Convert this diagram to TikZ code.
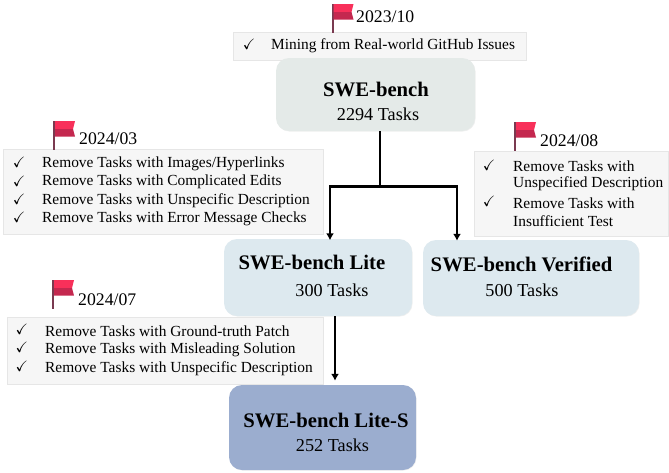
\documentclass[tikz,border=0pt]{standalone}
\usepackage{amssymb}
\usepackage{fontspec}
\setmainfont{Liberation Serif}
\usetikzlibrary{shadows}
\usetikzlibrary{arrows.meta}
\definecolor{flagtop}{HTML}{F8305A}
\definecolor{flagband}{HTML}{C4284F}
\definecolor{flagpole}{HTML}{7A3A50}
\definecolor{panelfill}{HTML}{F6F6F6}
\definecolor{paneledge}{HTML}{E6E6E6}
\definecolor{basefill}{HTML}{E4EAE8}
\definecolor{litefill}{HTML}{DDE9EF}
\definecolor{lowfill}{HTML}{9BADCF}
\tikzset{
 panel/.style={draw=paneledge,fill=panelfill,line width=.5pt,minimum width=#1},
 taskbox/.style={rounded corners=13pt,draw=none,inner sep=0pt,drop shadow={shadow xshift=.6pt,shadow yshift=-.6pt,opacity=.12}},
 boxtitle/.style={font=\fontsize{20.7}{22}\selectfont\bfseries,inner sep=0pt},
 boxcount/.style={font=\fontsize{18.2}{20}\selectfont,inner sep=0pt},
 datelabel/.style={font=\fontsize{17.7}{20}\selectfont,inner sep=0pt,anchor=west},
 item/.style={font=\fontsize{15.4}{17}\selectfont,inner sep=0pt,anchor=west},
 tick/.style={font=\fontsize{15}{17}\selectfont,inner sep=0pt},
 flow/.style={draw=black,line width=2.4pt},
 flowarrow/.style={flow,-{Latex[length=7pt,width=8pt]}},
 flagmark/.pic={
  \fill[flagpole] (0,0) rectangle (2.2,29);
  \fill[flagtop] (2.2,0) -- (22,0) -- (20,8) -- (2.2,8) -- cycle;
  \fill[flagband] (2.2,8) -- (20,8) -- (22,15.5) -- (2.2,15.5) -- cycle;
 },
}
\begin{document}
\begin{tikzpicture}[x=1pt,y=-1pt]
    \useasboundingbox (0,0) rectangle (669,472);
    % panels
    \node[panel=293pt,minimum height=28pt] (panelA) at (379.5,46) {};
    \node[panel=320pt,minimum height=85pt] (panelB) at (163,191.5) {};
    \node[panel=194pt,minimum height=85pt] (panelC) at (571,193.5) {};
    \node[panel=316pt,minimum height=67pt] (panelD) at (165,350.5) {};
    % boxes
    \node[taskbox,fill=basefill,minimum width=199pt,minimum height=73pt] (base) at (375.5,94.5) {};
    \node[taskbox,fill=litefill,minimum width=188pt,minimum height=77pt] (lite) at (318,277.5) {};
    \node[taskbox,fill=litefill,minimum width=216pt,minimum height=76pt] (verified) at (531,278) {};
    \node[taskbox,fill=lowfill,minimum width=187pt,minimum height=85pt] (liteS) at (322.5,427.5) {};
    % box texts
    \node[boxtitle] (baseT) at (376,89) {SWE-bench};
    \node[boxcount] (baseN) at (378,114) {2294 Tasks};
    \node[boxtitle] (liteT) at (312,262) {SWE-bench Lite};
    \node[boxcount] (liteN) at (332,290) {300 Tasks};
    \node[boxtitle] (verifiedT) at (521.5,264) {SWE-bench Verified};
    \node[boxcount] (verifiedN) at (522,290) {500 Tasks};
    \node[boxtitle] (liteST) at (326,420.5) {SWE-bench Lite-S};
    \node[boxcount] (liteSN) at (332.5,445) {252 Tasks};
    % connectors
    \coordinate (split) at (380,186.5);
    \coordinate (splitL) at (330,186.5);
    \coordinate (splitR) at (457,186.5);
    \draw[flow] (base.south -| split) -- (split);
    \draw[flowarrow,line cap=rect,shorten >=-1.5pt] (splitL) -- (lite.north -| splitL);
    \draw[flowarrow,line cap=rect,shorten >=-1pt] (splitR) -- (verified.north -| splitR);
    \draw[flow] (splitL) -- (splitR);
    \draw[flowarrow,shorten >=4pt] (lite.south -| 335,0) -- (liteS.north -| 335,0);
    % flags and dates
    \pic at (331.5,4) {flagmark};
    \node[datelabel] (dateA) at (356,17) {2023/10};
    \pic at (53,121) {flagmark};
    \node[datelabel] (dateB) at (79,139) {2024/03};
    \pic at (514,122) {flagmark};
    \node[datelabel] (dateC) at (540,141) {2024/08};
    \pic at (52,280) {flagmark};
    \node[datelabel] (dateD) at (78,299.5) {2024/07};
    % ticks
    \foreach \px/\py in {249/44,19/162,19/181,19/199,19/217,489/165,489/201,22/329,22/347,22/366}
        \node[tick] at (\px,\py) {$\checkmark$};
    % items
    \node[item] at (271,46) {Mining from Real-world GitHub Issues};
    \node[item] at (42,163.5) {Remove Tasks with Images/Hyperlinks};
    \node[item] at (42,182) {Remove Tasks with Complicated Edits};
    \node[item] at (42,201) {Remove Tasks with Unspecific Description};
    \node[item] at (42,219) {Remove Tasks with Error Message Checks};
    \node[item] at (513,166) {Remove Tasks with};
    \node[item] at (513,184) {Unspecified Description};
    \node[item] at (513,203) {Remove Tasks with};
    \node[item] at (513,221) {Insufficient Test};
    \node[item] at (45,331) {Remove Tasks with Ground-truth Patch};
    \node[item] at (45,350) {Remove Tasks with Misleading Solution};
    \node[item] at (45,368.5) {Remove Tasks with Unspecific Description};
\end{tikzpicture}
\end{document}
